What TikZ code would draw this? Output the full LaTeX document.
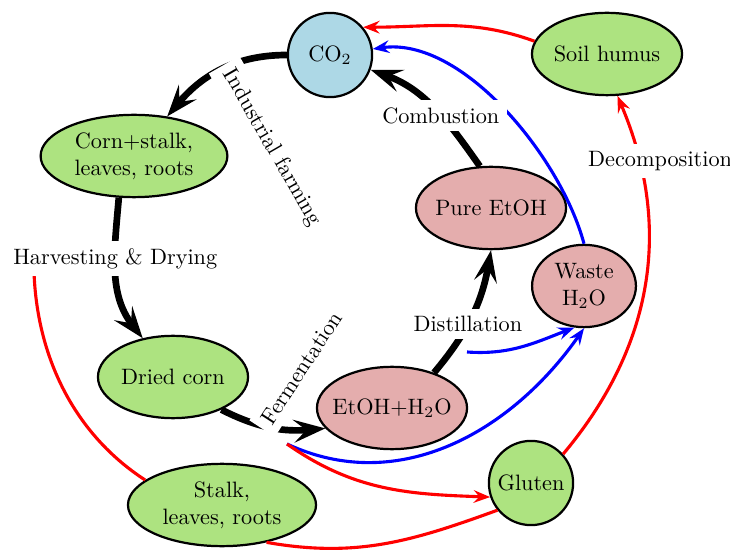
\documentclass[tikz,border=0pt]{standalone}
\usetikzlibrary{arrows.meta,shapes.geometric}
\definecolor{cropgreen}{RGB}{173,227,128}
\definecolor{fuelpink}{RGB}{228,173,173}
\definecolor{airblue}{RGB}{173,216,230}

\begin{document}
\begin{tikzpicture}[x=0.0158cm, y=-0.0158cm,
  stage/.style={ellipse, draw, line width=1pt, inner xsep=-3pt, inner ysep=0pt, align=center, minimum width=2.37cm, minimum height=1.3cm},
  pool/.style={circle, draw, line width=1pt, inner sep=0pt, minimum size=1.33cm},
  flow/.style={-{Stealth[length=5mm,width=3.6mm,inset=2mm]}, line width=3pt},
  trail/.style={line width=1.4pt},
  loss/.style={trail, -{Stealth[length=2.6mm,width=2mm,inset=0.9mm]}},
  steplabel/.style={fill=white, text=black}]
\useasboundingbox (0,0) rectangle (730,550);

\node[pool, fill=airblue] (co2) at (330,55) {CO$_2$};
\node[stage, fill=cropgreen] (humus) at (607,54) {Soil humus};
\node[stage, fill=cropgreen, minimum width=2.95cm] (corn) at (134,156) {Corn+stalk,\\leaves, roots};
\node[stage, fill=fuelpink] (pure) at (491,208) {Pure EtOH};
\node[stage, fill=fuelpink, minimum width=1.64cm] (waste) at (584,286) {Waste\\H$_2$O};
\node[stage, fill=cropgreen] (dried) at (173,377) {Dried corn};
\node[stage, fill=fuelpink] (mash) at (392,408) {EtOH+H$_2$O};
\node[pool, fill=cropgreen] (gluten) at (531,483) {Gluten};
\node[stage, fill=cropgreen, minimum width=2.97cm] (stalk) at (222,505) {Stalk,\\leaves, roots};

\coordinate (byprod) at (287,444);
\coordinate (spent) at (467,352);
\coordinate (residue) at (34,272);

\draw[loss, blue] (waste.north) to[out=105, in=8, looseness=0.8] (co2);
\draw[loss, blue] (spent) to[out=-4, in=201] (waste.-103);
\draw[loss, blue] (byprod) to[out=-25, in=235] (waste.south);
\draw[loss, red] (humus.170) to[out=160, in=0] (co2.40);
\draw[loss, red] (byprod) to[out=-35, in=178] (gluten.199);
\draw[trail, red] (residue) to[out=-88, in=147, looseness=0.92] (stalk.162);
\draw[trail, red] (stalk.-40) to[out=-10, in=200] (gluten.219);
\draw[loss, red] (gluten.42) to[out=50, in=-67] node[pos=0.83, xshift=0.33cm, steplabel] {Decomposition} (humus.-76);

\draw[flow] (co2) to[out=180, in=50] node[pos=0.45, anchor=west, rotate=-60, xshift=-3pt, steplabel] {Industrial farming} (corn);
\draw[flow] (corn.-110) to[out=-95, in=128] node[pos=0.4, steplabel] {Harvesting \& Drying} (dried);
\draw[flow] (dried.-34) to[out=-27, in=185] node[pos=0.42, anchor=west, rotate=57, xshift=-3pt, steplabel] {Fermentation} (mash.197);
\draw[flow] (mash.40) to[out=50, in=-100] node[pos=0.43, steplabel] {Distillation} (pure.-90);
\draw[flow] (pure.105) to[out=125, in=-20] node[pos=0.42, steplabel] {Combustion} (co2);
\end{tikzpicture}
\end{document}
